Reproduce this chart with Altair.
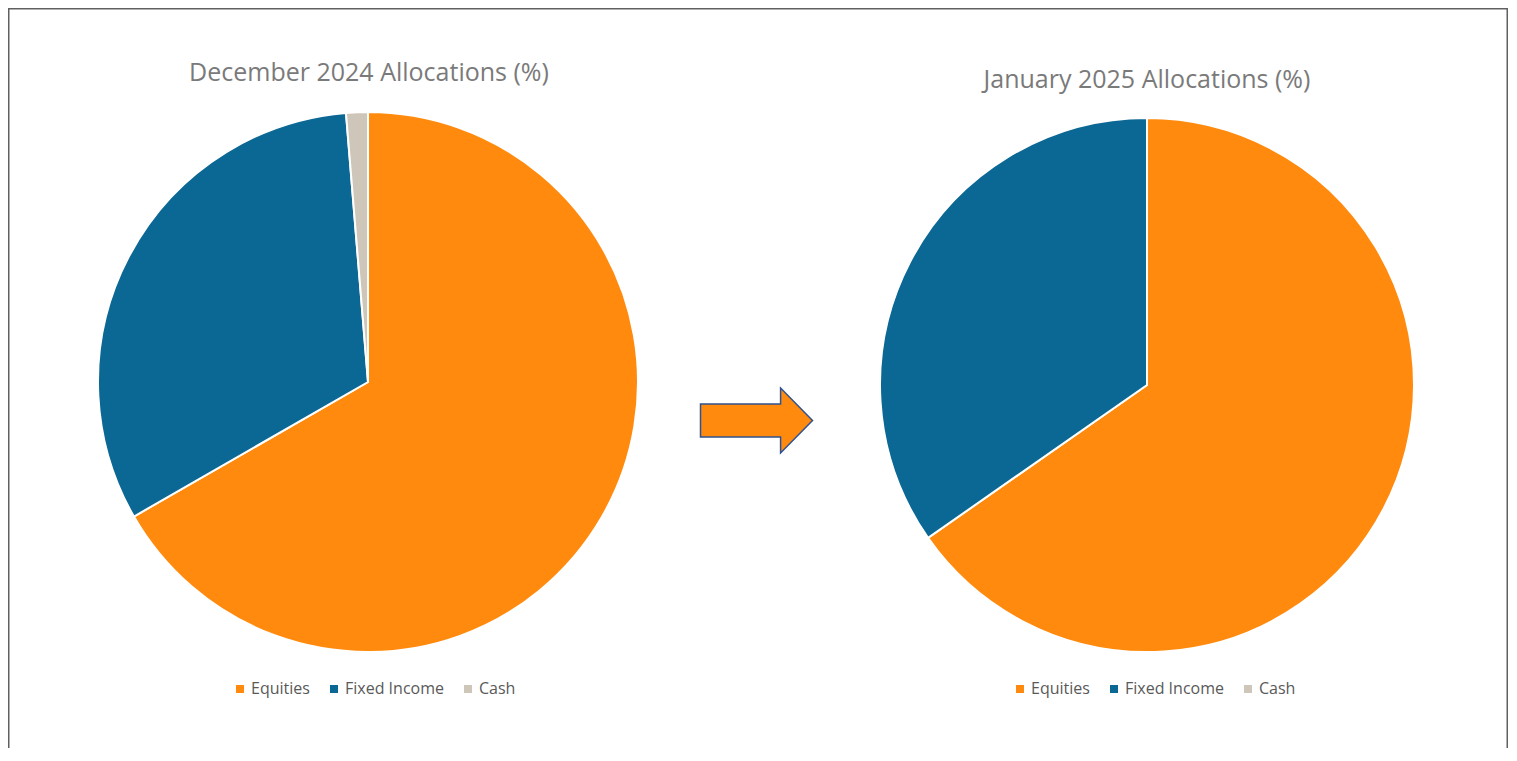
import altair as alt
import pandas as pd

# ---- data ----
categories = ["Equities", "Fixed Income", "Cash"]
dec_2024 = [66.7, 32.0, 1.3]
jan_2025 = [65.3, 34.7, 0.0]
titles = ["December 2024 Allocations (%)", "January 2025 Allocations (%)"]
colors = ["#FF8A0D", "#0B6794", "#CFC6BA"]
order_idx = [0, 1, 2]

FONT = "Open Sans"
W, H = 1500, 740

dec_df = pd.DataFrame({"Category": categories, "Value": dec_2024, "Order": order_idx})
jan_df = pd.DataFrame({"Category": categories, "Value": jan_2025, "Order": order_idx})


def legend(x, y):
    return alt.Legend(
        orient="none", legendX=x, legendY=y, direction="horizontal", title=None,
        symbolType="square", symbolSize=64, symbolStrokeWidth=0,
        labelFont=FONT, labelFontSize=16, labelColor="#595959",
        labelOffset=3, columnPadding=16, padding=0,
    )


def pie(df, cx, cy, r, lx, ly):
    return alt.Chart(df).mark_arc(radius=r, stroke="white", strokeWidth=2).encode(
        theta=alt.Theta("Value:Q", stack=True),
        color=alt.Color("Category:N", sort=categories,
                        scale=alt.Scale(domain=categories, range=colors),
                        legend=legend(lx, ly)),
        order=alt.Order("Order:Q"),
        x=alt.value(cx), y=alt.value(cy),
    )


left = pie(dec_df, 360, 374, 270, 224, 673)
right = pie(jan_df, 1139, 377, 267, 1004, 673)


def title_text(t, cx, cy):
    return alt.Chart(pd.DataFrame({"t": [t]})).mark_text(
        font=FONT, fontSize=25, color="#7a7a7a", baseline="middle", align="center"
    ).encode(text="t:N", x=alt.value(cx), y=alt.value(cy))


t_left = title_text(titles[0], 361, 65)
t_right = title_text(titles[1], 1139, 72)

one = pd.DataFrame({"a": [0]})
border_color = "#606060"
b_left = alt.Chart(one).mark_rule(color=border_color, strokeWidth=1.5).encode(
    x=alt.value(0.75), y=alt.value(0), y2=alt.value(H))
b_top = alt.Chart(one).mark_rule(color=border_color, strokeWidth=1.5).encode(
    x=alt.value(0), x2=alt.value(W), y=alt.value(0.75))
b_right = alt.Chart(one).mark_rule(color=border_color, strokeWidth=1.5).encode(
    x=alt.value(W - 0.75), y=alt.value(0), y2=alt.value(H))

arrow_path = "M -1 -0.295 L 0.43 -0.295 L 0.43 -0.58 L 1 0 L 0.43 0.58 L 0.43 0.295 L -1 0.295 Z"
arrow = alt.Chart(one).mark_point(
    shape=arrow_path, filled=True, fill="#FF8A0D", stroke="#2F528F",
    strokeWidth=1.5, opacity=1, fillOpacity=1, size=112 * 112,
).encode(x=alt.value(748.5), y=alt.value(412.5))

chart = alt.layer(left, right, t_left, t_right, arrow, b_left, b_top, b_right).resolve_scale(
    color="independent", theta="independent"
).properties(
    width=W, height=H, padding=0, autosize=alt.AutoSizeParams(type="none"),
    background="white",
).configure_view(stroke=None)

chart.save("out.html", embed_options={"renderer": "svg", "actions": False})
